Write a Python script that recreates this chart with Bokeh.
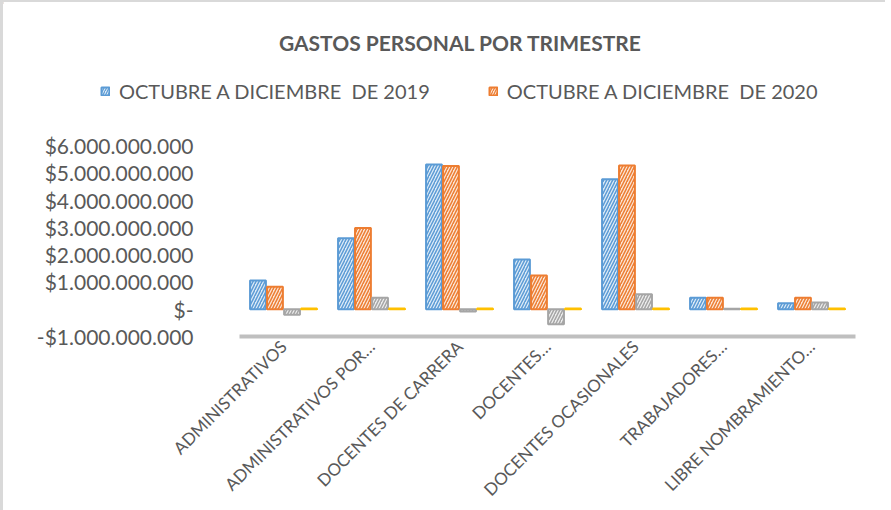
from bokeh.plotting import figure
from bokeh.layouts import column
from bokeh.models import FactorRange, Range1d, FixedTicker, Legend, LegendItem, ColumnDataSource
from bokeh.core.properties import value
from bokeh.transform import dodge
from bokeh.embed import file_html
from bokeh.resources import INLINE
import math

categories = ["ADMINISTRATIVOS", "ADMINISTRATIVOS POR…", "DOCENTES DE CARRERA", "DOCENTES…",
              "DOCENTES OCASIONALES", "TRABAJADORES…", "LIBRE NOMBRAMIENTO…"]
values_2019 = [1.05e9, 2.60e9, 5.30e9, 1.82e9, 4.76e9, 0.42e9, 0.22e9]
values_2020 = [0.82e9, 2.98e9, 5.25e9, 1.24e9, 5.27e9, 0.42e9, 0.42e9]
values_diff = [-0.20e9, 0.42e9, -0.08e9, -0.55e9, 0.55e9, 0.02e9, 0.25e9]
values_pct = [0.03e9, 0.03e9, 0.03e9, 0.03e9, 0.03e9, 0.03e9, 0.03e9]
series_labels = ["OCTUBRE A DICIEMBRE  DE 2019", "OCTUBRE A DICIEMBRE  DE 2020"]
tick_values = [-1e9, 0, 1e9, 2e9, 3e9, 4e9, 5e9, 6e9]
tick_labels = ["-$1.000.000.000", "$-", "$1.000.000.000", "$2.000.000.000", "$3.000.000.000",
               "$4.000.000.000", "$5.000.000.000", "$6.000.000.000"]
title_text = "GASTOS PERSONAL POR TRIMESTRE"

source = ColumnDataSource(dict(cat=categories, v2019=values_2019, v2020=values_2020,
                               vdiff=values_diff, vpct=values_pct))

TEXT = "#595959"
FONT = "Lato"
BORDER = "#d9d9d9"
W = 885
HEAD_H = 122

styles = [
    ("v2019", -0.29, "#5B9BD5", "#DDEBF7"),
    ("v2020", -0.097, "#ED7D31", "#FBE5D6"),
    ("vdiff", 0.097, "#A5A5A5", "#EDEDED"),
    ("vpct", 0.29, "#FFC000", "#FFF2CC"),
]

# ---------- header: title + legend ----------
h = figure(width=W, height=HEAD_H, x_range=Range1d(0, W), y_range=Range1d(HEAD_H, 0),
           min_border=0, x_axis_location=None, y_axis_location=None,
           output_backend="svg", toolbar_location=None)
h.frame_align = False
h.styles = {"border-top": f"2px solid {BORDER}", "border-left": f"3px solid {BORDER}"}
h.outline_line_color = None
h.xgrid.grid_line_color = None
h.ygrid.grid_line_color = None
h.text(x=[457], y=[40], text=[title_text], text_font=value(FONT), text_font_size="21px",
       text_font_style="bold", text_color=TEXT, text_align="center", text_baseline="middle")

swatches = []
for col, off, dark, light in styles[:2]:
    # legend swatch renderers: no visible data, only their style is used by the legend
    sw = h.vbar(x=[-100], top=[0], bottom=[0], width=0, fill_color=light, line_color=dark,
                line_width=2, hatch_pattern="/", hatch_color=dark, hatch_scale=5, hatch_weight=1.2)
    swatches.append(sw)
legend = Legend(items=[LegendItem(label=series_labels[0], renderers=[swatches[0]]),
                       LegendItem(label=series_labels[1], renderers=[swatches[1]])],
                orientation="horizontal", location=(97, 21), margin=0,
                label_text_font=FONT, label_text_font_size="20px", label_text_color=TEXT,
                glyph_width=10, glyph_height=10, spacing=58, padding=0, label_standoff=9,
                border_line_alpha=0, background_fill_alpha=0)
h.add_layout(legend, "center")

# ---------- main chart ----------
p = figure(x_range=FactorRange(*categories), y_range=Range1d(-1e9, 6e9),
           width=W, height=510 - HEAD_H, min_border_left=236, min_border_top=23,
           min_border_right=33, min_border_bottom=173,
           output_backend="svg", toolbar_location=None)
p.frame_align = False
p.styles = {"border-left": f"3px solid {BORDER}"}
p.outline_line_color = None
p.xgrid.grid_line_color = None
p.ygrid.grid_line_color = None

for col, off, dark, light in styles:
    p.vbar(x=dodge("cat", off, range=p.x_range), top=col, bottom=0, width=0.18, source=source,
           fill_color=light, line_color=dark, line_width=2,
           hatch_pattern="/", hatch_color=dark, hatch_scale=6, hatch_weight=1.5)

p.yaxis.ticker = FixedTicker(ticks=tick_values)
p.yaxis.major_label_overrides = {v: l for v, l in zip(tick_values, tick_labels)}
p.yaxis.axis_line_color = None
p.yaxis.major_tick_line_color = None
p.yaxis.minor_tick_line_color = None
p.yaxis.major_label_text_font = FONT
p.yaxis.major_label_text_font_size = "21px"
p.yaxis.major_label_text_color = TEXT
p.yaxis.major_label_standoff = 40

p.xaxis.axis_line_color = "#BFBFBF"
p.xaxis.axis_line_width = 4
p.xaxis.major_tick_line_color = None
p.xaxis.minor_tick_line_color = None
p.xaxis.major_label_orientation = math.pi / 4
p.xaxis.major_label_text_font = FONT
p.xaxis.major_label_text_font_size = "17px"
p.xaxis.major_label_text_color = TEXT
p.xaxis.major_label_standoff = 1

layout = column(h, p)
open("out.html", "w").write(file_html(layout, INLINE))
